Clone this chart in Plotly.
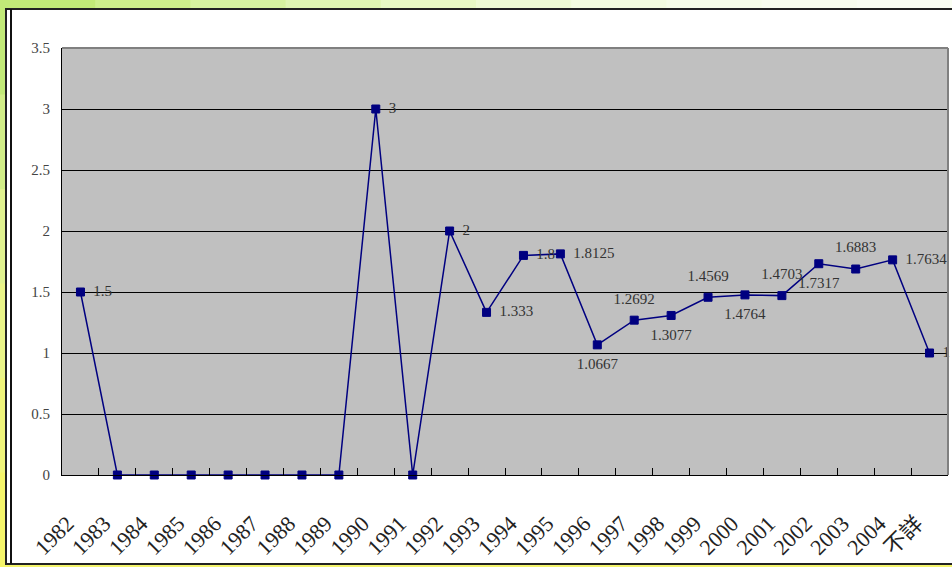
import plotly.graph_objects as go

# Category labels along the x axis
years = ["1982", "1983", "1984", "1985", "1986", "1987", "1988", "1989", "1990",
         "1991", "1992", "1993", "1994", "1995", "1996", "1997", "1998", "1999",
         "2000", "2001", "2002", "2003", "2004", "不詳"]

# Series values
values = [1.5, 0, 0, 0, 0, 0, 0, 0, 3, 0, 2, 1.333, 1.8, 1.8125, 1.0667,
          1.2692, 1.3077, 1.4569, 1.4764, 1.4703, 1.7317, 1.6883, 1.7634, 1]

# Where each value label sits relative to its marker
label_pos = ["middle right"] * 14 + [
    "bottom center", "top center", "bottom center", "top center",
    "bottom center", "top center", "bottom center", "top center",
    "middle right", "middle right"]

y_ticks = [0, 0.5, 1, 1.5, 2, 2.5, 3, 3.5]

SERIF = "Liberation Serif, Times New Roman, serif"

W, H = 952, 567
L, R, T, B = 62, 4, 48, 92
PW, PH = W - L - R, H - T - B


def px(x):
    return (x - L) / PW


def py(y):
    return (H - B - y) / PH


labels = [("" if v == 0 else f"{v:g}") for v in values]

fig = go.Figure()
fig.add_trace(go.Scatter(
    x=years, y=values, mode="lines+markers",
    line=dict(color="#000080", width=1.5),
    marker=dict(symbol="square", size=8, color="#000080",
                line=dict(color="#000080", width=1)),
    cliponaxis=False, showlegend=False, hoverinfo="x+y",
))
# value labels, pushed away from the markers by a wider invisible marker
fig.add_trace(go.Scatter(
    x=years, y=values, mode="markers+text",
    text=labels, textposition=label_pos,
    textfont=dict(family=SERIF, size=15, color="#333333"),
    marker=dict(size=19, color="rgba(0,0,0,0)"),
    cliponaxis=False, showlegend=False, hoverinfo="skip",
))

shapes = []
# soft green/yellow backdrop around the chart frame
top_cols = ["#c2ea78", "#cdef8c", "#d7f3a0", "#e0f6b3", "#e8f9c5",
            "#eefbd4", "#f3fce0", "#f6fde8", "#f8fdee", "#fafef3"]
n = len(top_cols)
for i, c in enumerate(top_cols):
    shapes.append(dict(type="rect", xref="paper", yref="paper", layer="below",
                       x0=px(i * W / n), x1=px((i + 1) * W / n + 1),
                       y0=py(0), y1=py(10), fillcolor=c, line=dict(width=0)))
left_cols = ["#c2ea78", "#d2ee88", "#e0f290", "#eaf488", "#f0f47a", "#f4f46a"]
m = len(left_cols)
for i, c in enumerate(left_cols):
    shapes.append(dict(type="rect", xref="paper", yref="paper", layer="below",
                       x0=px(0), x1=px(6), y0=py(i * H / m),
                       y1=py((i + 1) * H / m + 1), fillcolor=c,
                       line=dict(width=0)))
shapes.append(dict(type="rect", xref="paper", yref="paper", layer="below",
                   x0=px(0), x1=px(W), y0=py(563), y1=py(H),
                   fillcolor="#f4f46a", line=dict(width=0)))
# white chart frame
shapes.append(dict(type="rect", xref="paper", yref="paper", layer="below",
                   x0=px(6), x1=px(W + 5), y0=py(9), y1=py(564),
                   fillcolor="white", line=dict(color="#222222", width=2)))
shapes.append(dict(type="line", xref="paper", yref="paper", layer="below",
                   x0=px(11), x1=px(11), y0=py(9), y1=py(564),
                   line=dict(color="#111111", width=2)))
# grey plotting area
shapes.append(dict(type="rect", xref="paper", yref="paper", layer="below",
                   x0=0, x1=1, y0=0, y1=1, fillcolor="#c0c0c0",
                   line=dict(width=0)))
# grey border on the top and right of the plotting area
shapes.append(dict(type="line", xref="paper", yref="paper", layer="above",
                   x0=0, x1=1, y0=1, y1=1, line=dict(color="#808080", width=2)))
shapes.append(dict(type="line", xref="paper", yref="paper", layer="above",
                   x0=1, x1=1, y0=0, y1=1, line=dict(color="#808080", width=2)))

fig.update_layout(
    width=W, height=H,
    margin=dict(l=L, r=R, t=T, b=B),
    paper_bgcolor="#f8fbe6",
    plot_bgcolor="rgba(0,0,0,0)",
    shapes=shapes,
    xaxis=dict(
        type="category", categoryorder="array", categoryarray=years,
        showgrid=False, showline=True, linecolor="black", linewidth=1,
        ticks="inside", ticklen=7, tickcolor="black", tickwidth=1,
        tickson="boundaries", tickangle=-45,
        tickfont=dict(family=SERIF + ", Noto Sans CJK TC", size=22,
                      color="#222222"),
        ticklabelstandoff=26, ticklabelshift=-13,
        range=[-0.5, len(years) - 0.5],
    ),
    yaxis=dict(
        range=[0, 3.5], tickvals=y_ticks, ticktext=[f"{v:g}" for v in y_ticks],
        showgrid=True, gridcolor="black", gridwidth=1, zeroline=False,
        showline=True, linecolor="black", linewidth=1,
        ticks="", ticklabelstandoff=8,
        tickfont=dict(family=SERIF, size=15, color="#444444"),
    ),
)

fig.write_html("out.html")
